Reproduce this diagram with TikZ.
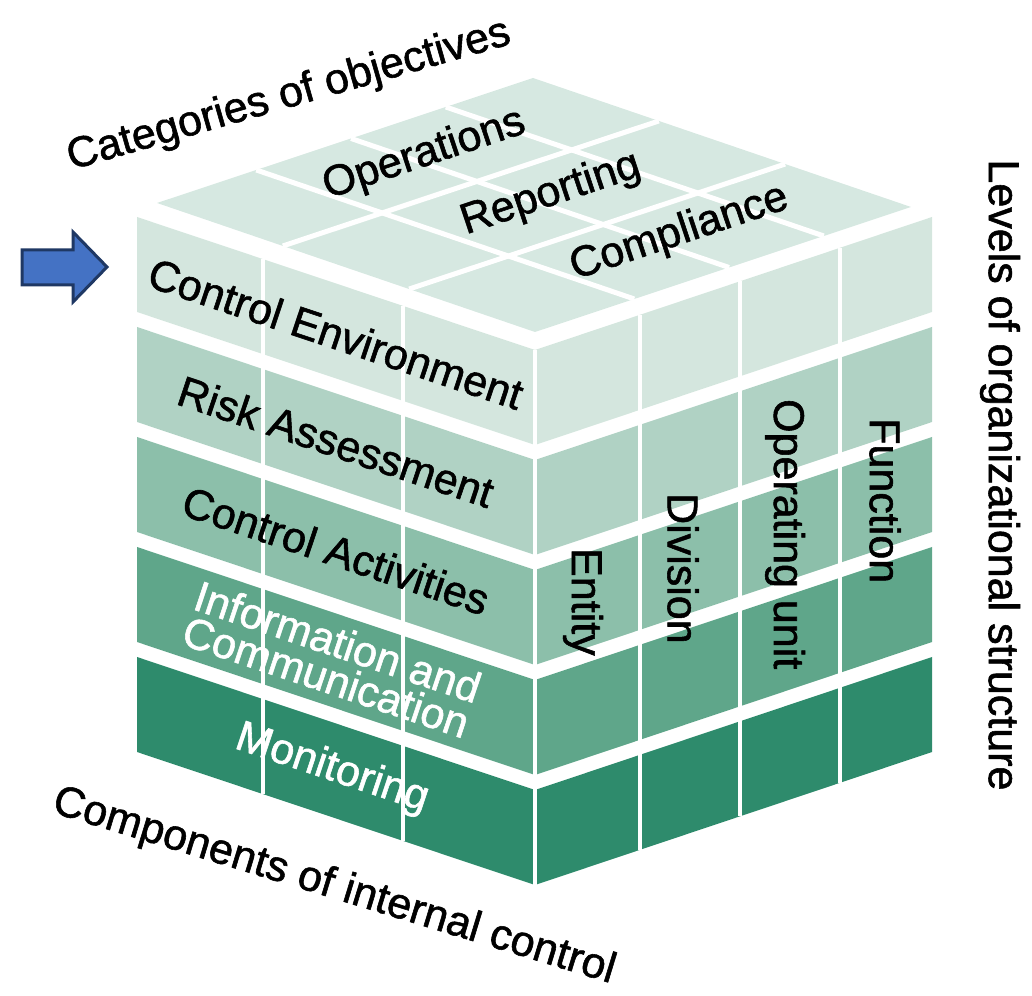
\documentclass[tikz,border=0pt]{standalone}
\usepackage{fontspec}
\setmainfont{Liberation Sans}
\newfontfamily\cubefont[FakeBold=1.3]{Liberation Sans}
\definecolor{layA}{HTML}{D4E6DE}
\definecolor{layB}{HTML}{B0D2C4}
\definecolor{layC}{HTML}{8CBFAA}
\definecolor{layD}{HTML}{5FA68A}
\definecolor{layE}{HTML}{2E8B6C}
\definecolor{topface}{HTML}{D6E8E1}
\definecolor{arrowblue}{HTML}{4472C4}
\definecolor{arrowedge}{HTML}{1F3864}
\tikzset{
  lbl/.style={font=\cubefont\fontsize{21.5}{18.5}\selectfont, inner sep=0pt, text=black},
  wlbl/.style={lbl, text=white},
  divider/.style={draw=white, line width=2pt},
  gridline/.style={draw=white, line width=2.5pt}
}
\begin{document}
\begin{tikzpicture}[x=0.5pt, y=0.5pt]
  \useasboundingbox (0,0) rectangle (1032,995);
  % left face: components
  \begin{scope}[shift={(137,778)}, x={(199pt,-66.5pt)}, y={(0pt,-0.5pt)}]
    \foreach \c [count=\i from 0] in {layA,layB,layC,layD,layE}
      \fill[\c] (0,110*\i) -- (1,110*\i) -- (1,110*\i+95) -- (0,110*\i+95) -- cycle;
    \foreach \u in {0.317,0.668}
      \draw[divider] (\u,0) -- (\u,535);
    \node[lbl, rotate=-18.5] (ce) at (0.5,50) {Control Environment};
    \node[lbl, rotate=-18.5] (ra) at (0.5,158) {Risk Assessment};
    \node[lbl, rotate=-18.5] (ca) at (0.5,267) {Control Activities};
    \node[wlbl, rotate=-18.5, align=center] (ic) at (0.49,377) {Information and\\Communication};
    \node[wlbl, rotate=-18.5] (mon) at (0.49,487) {Monitoring};
  \end{scope}
  % right face: levels
  \begin{scope}[shift={(535,645)}, x={(198.5pt,66.5pt)}, y={(0pt,-0.5pt)}]
    \foreach \c [count=\i from 0] in {layA,layB,layC,layD,layE}
      \fill[\c] (0,110*\i) -- (1,110*\i) -- (1,110*\i+95) -- (0,110*\i+95) -- cycle;
    \foreach \u in {0,0.264,0.516,0.768}
      \draw[divider] (\u,0) -- (\u,535);
    \node[lbl, rotate=-90] (ent) at (0.121,268) {Entity};
    \node[lbl, rotate=-90] (div) at (0.373,268) {Division};
    \node[lbl, rotate=-90] (opu) at (0.63,268) {Operating unit};
    \node[lbl, rotate=-90] (fun) at (0.882,268) {Function};
  \end{scope}
  % top face: objectives
  \begin{scope}[shift={(157,792)}, x={(189pt,-64.5pt)}, y={(188pt,62.5pt)}]
    \fill[topface] (0,0) -- (1,0) -- (1,1) -- (0,1) -- cycle;
    \foreach \a in {0.333,0.667}
      \draw[gridline] (\a,0) -- (\a,1);
    \foreach \b in {0.264,0.516,0.768}
      \draw[gridline] (0,\b) -- (1,\b);
    \node[lbl, rotate=18.5] (ops) at (0.16,0.55) {Operations};
    \node[lbl, rotate=18.5] (rep) at (0.48,0.565) {Reporting};
    \node[lbl, rotate=18.5] (cmp) at (0.8,0.585) {Compliance};
  \end{scope}
  % axis titles
  \node[lbl, rotate=16] (cat) at (289,899) {Categories of objectives};
  \node[lbl, rotate=-90] (lev) at (1000,520) {Levels of organizational structure};
  \node[lbl, rotate=-17] (cmpnt) at (334,108) {Components of internal control};
  % pointer
  \draw[draw=arrowedge, fill=arrowblue, line width=1.5pt, line join=miter]
    (22,745) -- (73,745) -- (73,763) -- (107,728) -- (73,693) -- (73,710) -- (22,710) -- cycle;
\end{tikzpicture}
\end{document}
